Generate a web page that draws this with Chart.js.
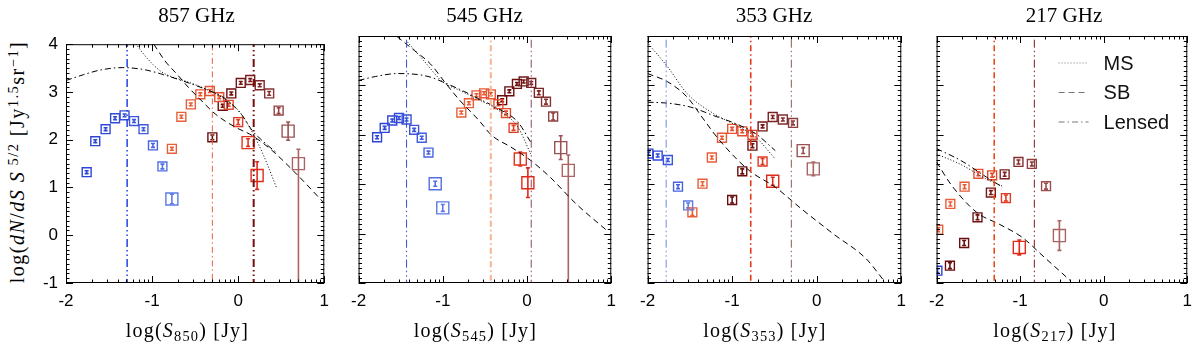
<!DOCTYPE html>
<html><head><meta charset="utf-8">
<script src="https://cdn.jsdelivr.net/npm/chart.js@4.4.1/dist/chart.umd.min.js"></script>
<style>
body{margin:0;width:1200px;height:348px;background:#fff;position:relative;overflow:hidden;}
.pc{position:absolute;top:26px;}
.ttl{position:absolute;top:2px;width:200px;text-align:center;font-family:"Liberation Serif",serif;font-size:21px;line-height:26px;color:#000;}
.xt{position:absolute;top:317px;width:220px;text-align:center;font-family:"Liberation Serif",serif;font-size:20px;line-height:26px;letter-spacing:1.2px;color:#000;white-space:nowrap;}
.yt{position:absolute;width:270px;height:26px;left:-118px;top:149px;text-align:center;font-family:"Liberation Serif",serif;font-size:20px;line-height:26px;letter-spacing:1.5px;transform:rotate(-90deg);white-space:nowrap;color:#000;}
.sb{font-size:0.72em;position:relative;top:0.25em;}
.sp{font-size:0.72em;position:relative;top:-0.45em;}
</style></head>
<body>
<div class="yt">log(<i>dN</i>/<i>dS</i> <i>S</i><span class="sp"> 5/2</span> [Jy<span class="sp">1.5</span>sr<span class="sp">&minus;1</span>]</div>
<div id="wrap"></div>
<script>
// ---------- labels ----------
const bandTitles = ['857 GHz', '545 GHz', '353 GHz', '217 GHz'];
const fluxSubs = ['850', '545', '353', '217'];
const xTickValues = [-2, -1, 0, 1];
const yTickValues = [-1, 0, 1, 2, 3, 4];
const legendNames = ['MS', 'SB', 'Lensed'];

// ---------- 857 GHz ----------
const f857LowX  = [-1.76, -1.66, -1.54, -1.43, -1.32, -1.21, -1.10, -0.99, -0.88, -0.77];
const f857LowY  = [1.32, 1.97, 2.22, 2.45, 2.51, 2.39, 2.22, 1.88, 1.44, 0.76];
const f857LowE  = [0.03, 0.03, 0.03, 0.03, 0.03, 0.03, 0.03, 0.04, 0.05, 0.10];
const f857MidX  = [-0.77, -0.66, -0.55, -0.44, -0.33, -0.22, -0.11, 0.00, 0.115, 0.22];
const f857MidY  = [1.81, 2.48, 2.74, 2.95, 3.02, 2.89, 2.73, 2.37, 1.94, 1.25];
const f857MidE  = [0.03, 0.03, 0.03, 0.03, 0.03, 0.03, 0.03, 0.05, 0.08, 0.29];
const f857HighX = [-0.30, -0.18, -0.08, 0.03, 0.14, 0.25, 0.36, 0.47, 0.58, 0.70];
const f857HighY = [2.05, 2.71, 2.97, 3.19, 3.25, 3.14, 2.97, 2.61, 2.18, 1.50];
const f857HighE = [0.05, 0.03, 0.03, 0.03, 0.03, 0.03, 0.04, 0.06, 0.19, [2.7, 0.30]];
const f857MsX   = [-1.19, -1.06, -0.905, -0.79, -0.60, -0.40, -0.20, 0.00, 0.10, 0.24, 0.355, 0.45];
const f857MsY   = [4.01, 3.71, 3.44, 3.33, 3.22, 3.08, 2.90, 2.62, 2.36, 1.89, 1.41, 0.97];
const f857SbX   = [-0.98, -0.85, -0.71, -0.58, -0.45, -0.26, -0.03, 0.16, 0.39, 0.70, 1.00];
const f857SbY   = [4.00, 3.65, 3.37, 3.10, 2.86, 2.53, 2.26, 2.09, 1.78, 1.24, 0.67];
const f857LensX = [-2.00, -1.80, -1.60, -1.34, -1.10, -0.90, -0.676, -0.50, -0.37, -0.20, -0.065, 0.05, 0.164, 0.30, 0.45];
const f857LensY = [3.24, 3.36, 3.46, 3.51, 3.47, 3.38, 3.25, 3.14, 3.05, 2.92, 2.73, 2.50, 2.19, 1.95, 1.72];
const f857Cuts  = [-1.29, -0.30, 0.18];

// ---------- 545 GHz ----------
const f545LowX  = [-1.78, -1.69, -1.60, -1.52, -1.43, -1.34, -1.25, -1.17, -1.09, -1.00];
const f545LowY  = [1.95, 2.14, 2.29, 2.34, 2.31, 2.10, 1.94, 1.64, 1.01, 0.52];
const f545LowE  = [0.03, 0.03, 0.03, 0.03, 0.03, 0.03, 0.03, 0.03, 0.05, 0.07];
const f545MidX  = [-0.78, -0.69, -0.60, -0.51, -0.43, -0.34, -0.25, -0.16, -0.08, 0.01];
const f545MidY  = [2.45, 2.64, 2.80, 2.84, 2.82, 2.62, 2.44, 2.14, 1.51, 1.03];
const f545MidE  = [0.03, 0.03, 0.03, 0.03, 0.03, 0.03, 0.04, 0.05, 0.14, 0.30];
const f545HighX = [-0.295, -0.21, -0.12, -0.04, 0.05, 0.14, 0.225, 0.31, 0.40, 0.49];
const f545HighY = [2.70, 2.88, 3.03, 3.08, 3.05, 2.85, 2.67, 2.37, 1.74, 1.28];
const f545HighE = [0.03, 0.03, 0.03, 0.03, 0.03, 0.04, 0.05, 0.07, 0.24, [2.4, 0.31]];
const f545MsX   = [-1.42, -1.23, -1.00, -0.80, -0.573, -0.342, -0.11, 0.044];
const f545MsY   = [3.88, 3.51, 3.07, 2.90, 2.71, 2.50, 2.16, 1.61];
const f545SbX   = [-1.545, -1.34, -1.15, -0.96, -0.80, -0.57, -0.42, -0.19, 0.044, 0.275, 0.584, 0.97];
const f545SbY   = [3.99, 3.71, 3.44, 3.03, 2.70, 2.29, 1.99, 1.75, 1.48, 1.14, 0.60, 0.03];
const f545LensX = [-2.00, -1.80, -1.537, -1.30, -1.15, -1.00, -0.80, -0.573, -0.342, -0.11, 0.044];
const f545LensY = [3.10, 3.18, 3.24, 3.22, 3.17, 3.07, 2.92, 2.73, 2.53, 2.26, 1.85];
const f545Cuts  = [-1.43, -0.43, 0.05];

// ---------- 353 GHz ----------
const f353LowX  = [-1.99, -1.88, -1.76, -1.64, -1.52];
const f353LowY  = [1.62, 1.58, 1.49, 0.95, 0.57];
const f353LowE  = [0.03, 0.03, 0.03, 0.04, 0.05];
const f353MidX  = [-1.47, -1.35, -1.24, -1.12, -1.00, -0.88, -0.76, -0.64, -0.52];
const f353MidY  = [0.43, 1.01, 1.54, 1.94, 2.12, 2.07, 2.00, 1.46, 1.06];
const f353MidE  = [0.06, 0.04, 0.03, 0.03, 0.03, 0.03, 0.04, 0.06, 0.08];
const f353HighX = [-1.00, -0.88, -0.76, -0.64, -0.52, -0.40, -0.28, -0.16, -0.04];
const f353HighY = [0.68, 1.26, 1.78, 2.17, 2.36, 2.31, 2.24, 1.68, 1.31];
const f353HighE = [0.06, 0.05, 0.04, 0.03, 0.03, 0.03, 0.04, 0.06, 0.14];
const f353MsX   = [-1.99, -1.76, -1.53, -1.22, -0.95, -0.72, -0.49];
const f353MsY   = [3.84, 3.37, 2.83, 2.43, 2.19, 1.95, 1.51];
const f353SbX   = [-2.00, -1.76, -1.53, -1.34, -1.15, -0.80, -0.49, -0.18, 0.20, 0.585, 0.78];
const f353SbY   = [3.24, 3.07, 2.76, 2.32, 1.89, 1.28, 0.94, 0.50, -0.01, -0.51, -0.92];
const f353LensX = [-2.00, -1.76, -1.49, -1.22, -0.95, -0.72, -0.49];
const f353LensY = [2.66, 2.64, 2.56, 2.39, 2.22, 2.02, 1.68];
const f353Cuts  = [-1.78, -0.78, -0.30];

// ---------- 217 GHz ----------
const f217LowX  = [-1.99];
const f217LowY  = [-0.75];
const f217LowE  = [0.04];
const f217MidX  = [-1.98, -1.835, -1.665, -1.50, -1.335, -1.17, -1.01];
const f217MidY  = [0.08, 0.60, 0.95, 1.21, 1.18, 0.72, -0.28];
const f217MidE  = [0.04, 0.04, 0.04, 0.04, 0.04, 0.06, 0.15];
const f217HighX = [-1.84, -1.67, -1.51, -1.35, -1.185, -1.02, -0.86, -0.69, -0.53];
const f217HighY = [-0.65, -0.19, 0.33, 0.83, 1.20, 1.45, 1.41, 0.96, -0.04];
const f217HighE = [0.06, 0.05, 0.05, 0.04, 0.04, 0.04, 0.04, 0.06, 0.30];
const f217MsX   = [-2.00, -1.71, -1.40, -1.21];
const f217MsY   = [1.61, 1.40, 1.10, 0.96];
const f217SbX   = [-2.00, -1.83, -1.52, -1.25, -0.98, -0.71, -0.40];
const f217SbY   = [1.45, 1.00, 0.43, 0.19, -0.07, -0.48, -0.95];
const f217LensX = [-2.00, -1.71, -1.40, -1.21];
const f217LensY = [1.72, 1.48, 1.14, 0.94];
const f217Cuts  = [-1.31, -0.83];

// ---------- styles ----------
const lowColors  = ['#2c44d6', '#5c7ae8'];
const midColors  = ['#e8603a', '#e02a18'];
const highColors = ['#6a0c0c', '#aa6464'];
const DOT = [1, 2], DASH = [6, 4], DASHDOT = [6, 3, 1.5, 3];
const DDD = [8, 3, 1.5, 3, 1.5, 3];

const panels = [
  { low: [f857LowX, f857LowY, f857LowE], mid: [f857MidX, f857MidY, f857MidE], high: [f857HighX, f857HighY, f857HighE],
    ms: [f857MsX, f857MsY], sb: [f857SbX, f857SbY], lens: [f857LensX, f857LensY], cuts: f857Cuts,
    cutStyle: [['#2040e8', 1.5, DDD], ['#e86040', 1, DASHDOT], ['#7a0c0c', 2, DDD]],
    plotL: 66, plotR: 327, padL: 30, padR: 10, bigFrom: [9, 8, 8] },
  { low: [f545LowX, f545LowY, f545LowE], mid: [f545MidX, f545MidY, f545MidE], high: [f545HighX, f545HighY, f545HighE],
    ms: [f545MsX, f545MsY], sb: [f545SbX, f545SbY], lens: [f545LensX, f545LensY], cuts: f545Cuts,
    cutStyle: [['#3050c8', 1, DDD], ['#f4b898', 2.2, DASHDOT], ['#8c4466', 1, DDD]],
    plotL: 355, plotR: 614, padL: 12, padR: 10, bigFrom: [8, 8, 8] },
  { low: [f353LowX, f353LowY, f353LowE], mid: [f353MidX, f353MidY, f353MidE], high: [f353HighX, f353HighY, f353HighE],
    ms: [f353MsX, f353MsY], sb: [f353SbX, f353SbY], lens: [f353LensX, f353LensY], cuts: f353Cuts,
    cutStyle: [['#6a86e0', 1, DDD], ['#e83818', 1.6, DASHDOT], ['#905858', 1, DDD]],
    plotL: 644, plotR: 904, padL: 12, padR: 10, bigFrom: [9, 8, 7] },
  { low: [f217LowX, f217LowY, f217LowE], mid: [f217MidX, f217MidY, f217MidE], high: [f217HighX, f217HighY, f217HighE],
    ms: [f217MsX, f217MsY], sb: [f217SbX, f217SbY], lens: [f217LensX, f217LensY], cuts: f217Cuts,
    cutStyle: [['#e84818', 1.6, DASHDOT], ['#801818', 1, DDD]],
    plotL: 933, plotR: 1195, padL: 12, padR: 5, bigFrom: [9, 6, 8], legend: true }
];

function hex2rgb(h) { return [1, 3, 5].map(i => parseInt(h.substr(i, 2), 16)); }
function shades(pair, n) {
  const a = hex2rgb(pair[0]), b = hex2rgb(pair[1]);
  return Array.from({ length: n }, (_, i) => {
    const t = n > 1 ? i / (n - 1) : 0;
    return 'rgb(' + a.map((v, k) => Math.round(v + (b[k] - v) * t * t)).join(',') + ')';
  });
}

const decor = {
  id: 'decor',
  beforeDatasetsDraw(chart) {
    const { ctx, chartArea: a } = chart;
    const ys = chart.scales.y;
    ctx.save();
    ctx.beginPath(); ctx.rect(a.left, a.top, a.right - a.left, a.bottom - a.top); ctx.clip();
    chart.data.datasets.forEach((ds, di) => {
      if (!ds.errors) return;
      const meta = chart.getDatasetMeta(di);
      meta.data.forEach((pt, i) => {
        const e = ds.errors[i];
        const lo = Array.isArray(e) ? e[0] : e, hi = Array.isArray(e) ? e[1] : e;
        const v = ds.data[i].y;
        const y1 = ys.getPixelForValue(v - lo), y2 = ys.getPixelForValue(v + hi);
        ctx.strokeStyle = ds.pointBorderColor[i];
        ctx.lineWidth = 1.6;
        ctx.beginPath();
        ctx.moveTo(pt.x, y1); ctx.lineTo(pt.x, y2);
        ctx.moveTo(pt.x - 2, y1); ctx.lineTo(pt.x + 2, y1);
        ctx.moveTo(pt.x - 2, y2); ctx.lineTo(pt.x + 2, y2);
        ctx.stroke();
      });
    });
    ctx.restore();
  },
  afterDraw(chart, args, opts) {
    const { ctx, chartArea: a } = chart;
    const xs = chart.scales.x, ys = chart.scales.y;
    ctx.save();
    ctx.strokeStyle = '#000'; ctx.lineWidth = 1;
    ctx.strokeRect(a.left + 0.5, a.top + 0.5, a.right - a.left - 1, a.bottom - a.top - 1);
    ctx.beginPath();
    xTickValues.forEach(d => {
      const px = Math.round(xs.getPixelForValue(d)) + 0.5;
      ctx.moveTo(px, a.bottom); ctx.lineTo(px, a.bottom - 7);
      ctx.moveTo(px, a.top); ctx.lineTo(px, a.top + 7);
      if (d < xTickValues[xTickValues.length - 1]) {
        for (let k = 2; k <= 9; k++) {
          const q = Math.round(xs.getPixelForValue(d + Math.log10(k))) + 0.5;
          ctx.moveTo(q, a.bottom); ctx.lineTo(q, a.bottom - 3.5);
          ctx.moveTo(q, a.top); ctx.lineTo(q, a.top + 3.5);
        }
      }
    });
    yTickValues.forEach(v => {
      const py = Math.round(ys.getPixelForValue(v)) + 0.5;
      ctx.moveTo(a.left, py); ctx.lineTo(a.left + 7, py);
      ctx.moveTo(a.right, py); ctx.lineTo(a.right - 7, py);
      if (v < yTickValues[yTickValues.length - 1]) {
        for (let k = 1; k <= 9; k++) {
          const q = Math.round(ys.getPixelForValue(v + k / 10)) + 0.5;
          ctx.moveTo(a.left, q); ctx.lineTo(a.left + 3.5, q);
          ctx.moveTo(a.right, q); ctx.lineTo(a.right - 3.5, q);
        }
      }
    });
    ctx.stroke();
    if (opts.legend) {
      const dashes = [DOT, DASH, DASHDOT];
      ctx.font = '20px "Liberation Sans", Arial, sans-serif';
      ctx.textBaseline = 'middle';
      legendNames.forEach((name, i) => {
        const y = a.top + 27 + i * 29.5;
        ctx.strokeStyle = '#777'; ctx.lineWidth = 1; ctx.setLineDash(dashes[i]);
        ctx.beginPath(); ctx.moveTo(a.left + 122, y); ctx.lineTo(a.left + 152, y); ctx.stroke();
        ctx.setLineDash([]);
        ctx.fillStyle = '#111';
        ctx.fillText(name, a.left + 167, y + 1);
      });
    }
    ctx.restore();
  }
};

const wrap = document.getElementById('wrap');
panels.forEach((p, idx) => {
  const left = p.plotL - p.padL;
  const width = p.plotR + p.padR - left;
  const height = 297;
  const div = document.createElement('div');
  div.className = 'pc';
  div.style.left = left + 'px';
  div.innerHTML = '<canvas width="' + width + '" height="' + height + '" style="width:' + width + 'px;height:' + height + 'px"></canvas>';
  wrap.appendChild(div);

  const cx = (p.plotL + p.plotR) / 2;
  const t = document.createElement('div');
  t.className = 'ttl'; t.style.left = (cx - 100) + 'px'; t.textContent = bandTitles[idx];
  document.body.appendChild(t);
  const xt = document.createElement('div');
  xt.className = 'xt'; xt.style.left = (cx - 9 - 110) + 'px';
  xt.innerHTML = 'log(<i>S</i><span class="sb">' + fluxSubs[idx] + '</span>) [Jy]';
  document.body.appendChild(xt);

  const datasets = [];
  p.cuts.forEach((c, i) => {
    const st = p.cutStyle[i];
    datasets.push({ type: 'line', data: [{ x: c, y: -1.5 }, { x: c, y: 4.5 }], borderColor: st[0], borderWidth: st[1],
      borderDash: st[2], pointRadius: 0, clip: 0 });
  });
  [[p.ms, DOT], [p.sb, DASH], [p.lens, DASHDOT]].forEach(([cv, dash]) => {
    datasets.push({ type: 'line', data: cv[0].map((x, i) => ({ x, y: cv[1][i] })), borderColor: '#000', borderWidth: 1,
      borderDash: dash, pointRadius: 0, cubicInterpolationMode: 'monotone', clip: 0 });
  });
  [[p.low, lowColors, p.bigFrom[0]], [p.mid, midColors, p.bigFrom[1]], [p.high, highColors, p.bigFrom[2]]].forEach(([s, pal, big]) => {
    const n = s[0].length;
    const cols = shades(pal, n);
    datasets.push({ type: 'scatter', data: s[0].map((x, i) => ({ x, y: s[1][i] })), errors: s[2],
      pointStyle: 'rect', pointRadius: s[0].map((_, i) => i >= big ? 8.5 : 6.3), pointHoverRadius: 6.3,
      pointBorderColor: cols, pointBackgroundColor: 'rgba(0,0,0,0)', pointBorderWidth: 1.4, clip: 0 });
  });

  const yWidth = idx === 0 ? 30 : 0;
  new Chart(div.querySelector('canvas'), {
    data: { datasets },
    plugins: [decor],
    options: {
      responsive: false, animation: false, devicePixelRatio: 1,
      layout: { padding: { left: idx === 0 ? 0 : p.padL, right: p.padR, top: 10, bottom: 0 } },
      plugins: { legend: { display: false }, tooltip: { enabled: false }, decor: { legend: !!p.legend } },
      scales: {
        x: { type: 'linear', min: -2, max: 1,
          afterBuildTicks: s => { s.ticks = xTickValues.map(v => ({ value: v })); },
          afterFit: s => { s.height = 40; },
          grid: { display: false, drawTicks: false }, border: { display: false },
          ticks: { padding: 8, color: '#000', font: { family: '"Liberation Sans", Arial, sans-serif', size: 17 },
            callback: v => String(v), maxRotation: 0, autoSkip: false } },
        y: { type: 'linear', min: -1, max: 4, display: idx === 0,
          afterBuildTicks: s => { s.ticks = yTickValues.map(v => ({ value: v })); },
          afterFit: s => { s.width = yWidth; },
          grid: { display: false, drawTicks: false }, border: { display: false },
          ticks: { display: idx === 0, padding: 8, color: '#000', font: { family: '"Liberation Sans", Arial, sans-serif', size: 17 },
            callback: v => String(v), autoSkip: false } }
      }
    }
  });
});
</script>
</body></html>
